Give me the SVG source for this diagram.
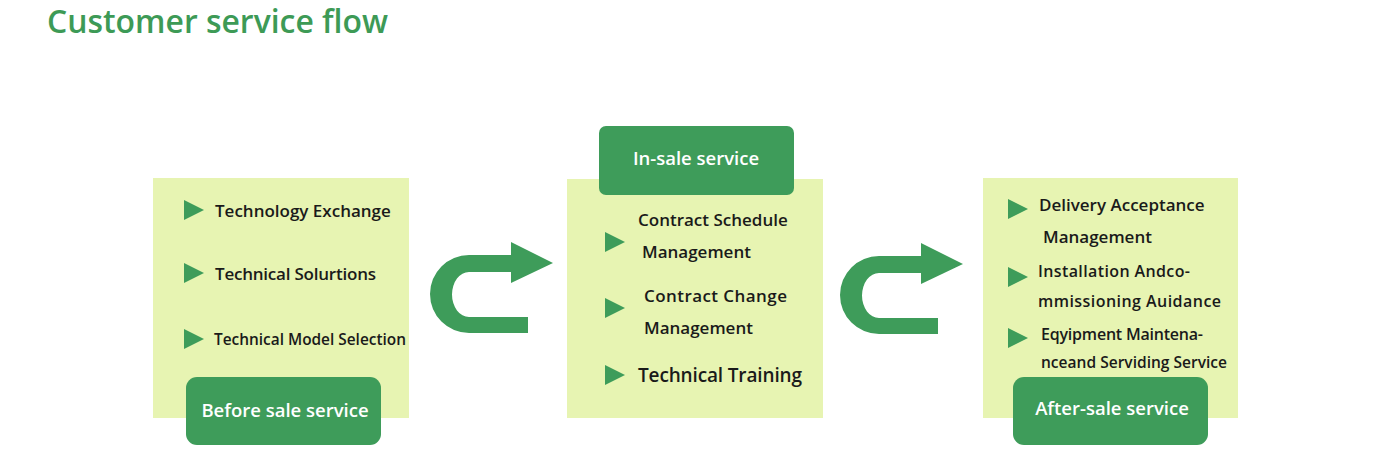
<svg xmlns="http://www.w3.org/2000/svg" width="1400" height="459" viewBox="0 0 1400 459">
<defs>
<style>
.panel{fill:#e7f4b2}
.btn{fill:#3e9c5a}
.tri{fill:#3e9c5a}
.arrow{fill:#3e9c5a}
.title{font-family:"Open Sans","Noto Sans",sans-serif;font-size:33px;font-weight:600;fill:#3d9a56}
.item{font-family:"Open Sans","Noto Sans",sans-serif;font-size:17px;font-weight:600;fill:#1a1a1a}
.btxt{font-family:"Open Sans","Noto Sans",sans-serif;font-size:18.5px;font-weight:600;fill:#ffffff;text-anchor:middle}
</style>
<polygon id="tri" points="0,-10 20,0 0,10"/>
</defs>
<rect width="1400" height="459" fill="#ffffff"/>
<text class="title" x="47" y="33" textLength="341" lengthAdjust="spacingAndGlyphs">Customer service flow</text>

<g id="before-sale">
<rect class="panel" x="153" y="178" width="256" height="240"/>
<use href="#tri" class="tri" x="184" y="210"/>
<text class="item" x="215" y="217">Technology Exchange</text>
<use href="#tri" class="tri" x="184" y="273"/>
<text class="item" x="215" y="280" textLength="161">Technical Solurtions</text>
<use href="#tri" class="tri" x="184" y="339"/>
<text class="item" x="214" y="345" style="font-size:16px" textLength="192" lengthAdjust="spacingAndGlyphs">Technical Model Selection</text>
<rect class="btn" x="186" y="377" width="195" height="68" rx="11"/>
<text class="btxt" x="285" y="417">Before sale service</text>
</g>

<g id="in-sale">
<rect class="panel" x="567" y="179" width="256" height="239"/>
<rect class="btn" x="599" y="126" width="195" height="69" rx="7"/>
<text class="btxt" x="696" y="165">In-sale service</text>
<use href="#tri" class="tri" x="605" y="242"/>
<text class="item" x="638" y="226">Contract Schedule</text>
<text class="item" x="642" y="258">Management</text>
<use href="#tri" class="tri" x="605" y="308"/>
<text class="item" x="644" y="302" textLength="143">Contract Change</text>
<text class="item" x="644" y="334">Management</text>
<use href="#tri" class="tri" x="605" y="375"/>
<text class="item" x="638" y="382" style="font-size:19px" textLength="164">Technical Training</text>
</g>

<g id="after-sale">
<rect class="panel" x="983" y="178" width="255" height="240"/>
<use href="#tri" class="tri" x="1008" y="209"/>
<text class="item" x="1039" y="211">Delivery Acceptance</text>
<text class="item" x="1043" y="243">Management</text>
<use href="#tri" class="tri" x="1008" y="277"/>
<text class="item" x="1038" y="277" style="font-size:16px" textLength="152">Installation Andco-</text>
<text class="item" x="1038" y="307" style="font-size:16px" textLength="183">mmissioning Auidance</text>
<use href="#tri" class="tri" x="1008" y="338"/>
<text class="item" x="1041" y="340" style="font-size:16px" textLength="162">Eqyipment Maintena-</text>
<text class="item" x="1041" y="368" style="font-size:16px" textLength="186" lengthAdjust="spacingAndGlyphs">nceand Serviding Service</text>
<rect class="btn" x="1013" y="377" width="195" height="68" rx="11"/>
<text class="btxt" x="1112" y="415">After-sale service</text>
</g>

<g id="connectors">
<path id="arrow1" class="arrow" d="M511 242 L553 263 L511 283 L511 272 L469 272 A17 22.5 0 0 0 469 317 L528 317 L528 333 L469 333 A39 39 0 0 1 469 255 L511 255 Z"/>
<path id="arrow2" class="arrow" transform="translate(410,1)" d="M511 242 L553 263 L511 283 L511 272 L469 272 A17 22.5 0 0 0 469 317 L528 317 L528 333 L469 333 A39 39 0 0 1 469 255 L511 255 Z"/>
</g>
</svg>
